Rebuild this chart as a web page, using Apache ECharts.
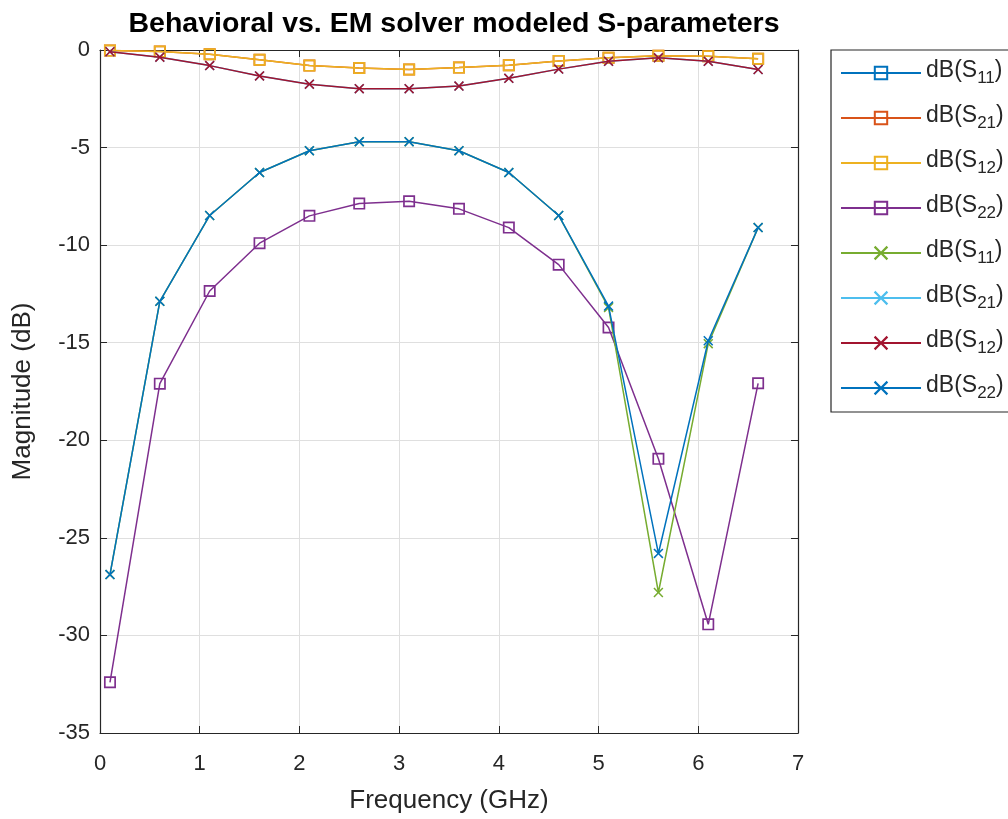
<!DOCTYPE html>
<html>
<head>
<meta charset="utf-8">
<script src="https://cdn.jsdelivr.net/npm/echarts@6/dist/echarts.min.js"></script>
<style>
html,body{margin:0;padding:0;background:#fff;}
#chart{width:1008px;height:819px;}
</style>
</head>
<body>
<div id="chart"></div>
<script>
// ---- data ----
const freq = [0.1, 0.6, 1.1, 1.6, 2.1, 2.6, 3.1, 3.6, 4.1, 4.6, 5.1, 5.6, 6.1, 6.6];
const xTicks = [0, 1, 2, 3, 4, 5, 6, 7];
const yTicks = [-35, -30, -25, -20, -15, -10, -5, 0];
// Behavioral model (square markers)
const s11Behav = [];   // not visible in the reference
const s21Behav = [-0.03, -0.08, -0.22, -0.5, -0.8, -0.92, -1.0, -0.9, -0.78, -0.56, -0.4, -0.3, -0.32, -0.45];
const s12Behav = [-0.03, -0.08, -0.22, -0.5, -0.8, -0.92, -1.0, -0.9, -0.78, -0.56, -0.4, -0.3, -0.32, -0.45];
const s22Behav = [-32.4, -17.1, -12.35, -9.9, -8.5, -7.87, -7.75, -8.14, -9.1, -11.0, -14.22, -20.95, -29.43, -17.08];
// EM solver (x markers)
const s11EM = [-26.88, -12.88, -8.48, -6.28, -5.16, -4.7, -4.7, -5.16, -6.28, -8.48, -13.2, -27.8, -15.05, -9.1];
const s21EM = [-0.09, -0.37, -0.8, -1.33, -1.75, -1.98, -1.98, -1.85, -1.45, -0.98, -0.58, -0.4, -0.58, -1.0];
const s12EM = [-0.09, -0.37, -0.8, -1.33, -1.75, -1.98, -1.98, -1.85, -1.45, -0.98, -0.58, -0.4, -0.58, -1.0];
const s22EM = [-26.88, -12.88, -8.48, -6.28, -5.16, -4.7, -4.7, -5.16, -6.28, -8.48, -13.12, -25.8, -14.9, -9.1];
const labels = ['11', '21', '12', '22', '11', '21', '12', '22'];

// ---- style ----
const colors = ['#0072BD', '#D95319', '#EDB120', '#7E2F8E', '#77AC30', '#4DBEEE', '#A2142F', '#0072BD'];
const SQUARE = 'path://M0,0H10V10H0Z M1.4,1.4V8.6H8.6V1.4Z';
const CROSS = 'path://M0,1.1L1.1,0L5,3.9L8.9,0L10,1.1L6.1,5L10,8.9L8.9,10L5,6.1L1.1,10L0,8.9L3.9,5Z';
const font = 'Liberation Sans, Arial, Helvetica, sans-serif';
const axisColor = '#262626';

const allData = [s11Behav, s21Behav, s12Behav, s22Behav, s11EM, s21EM, s12EM, s22EM];
const series = allData.map((vals, i) => {
  const isSq = i < 4;
  return {
    name: 'S' + i,
    type: 'line',
    data: vals.map((v, k) => [freq[k], v]),
    symbol: isSq ? SQUARE : CROSS,
    symbolSize: isSq ? 12 : 10,
    showAllSymbol: true,
    lineStyle: { color: colors[i], width: 1.5 },
    itemStyle: { color: colors[i] },
    emphasis: { disabled: true },
    animation: false,
    z: 2 + i
  };
});

const tickStyle = { inside: true, length: 7, lineStyle: { color: axisColor } };
const lineStyleAx = { onZero: false, lineStyle: { color: axisColor, width: 1.2 } };

const chart = echarts.init(document.getElementById('chart'), null, { renderer: 'canvas' });
chart.setOption({
  animation: false,
  backgroundColor: '#fff',
  title: {
    text: 'Behavioral vs. EM solver modeled S-parameters',
    left: 449, top: 5, textAlign: 'center',
    textStyle: { fontFamily: font, fontSize: 28.5, fontWeight: 'bold', color: '#000' }
  },
  grid: { left: 100, right: 210, top: 50, bottom: 84 },
  legend: {
    orient: 'vertical',
    left: 831, top: 50,
    padding: [9, 80, 10, 9],
    borderColor: axisColor, borderWidth: 1.2,
    itemWidth: 80, itemHeight: 18, itemGap: 17,
    data: series.map(s => s.name),
    formatter: function (name) {
      const i = parseInt(name.slice(1), 10);
      return '{a|dB(S}{s|' + labels[i] + '}{a|)}';
    },
    textStyle: {
      fontFamily: font, color: axisColor,
      rich: {
        a: { fontFamily: font, fontSize: 23, color: axisColor, lineHeight: 28, verticalAlign: 'top' },
        s: { fontFamily: font, fontSize: 17, color: axisColor, lineHeight: 28, verticalAlign: 'bottom', padding: [11, 0, 0, 0] }
      }
    }
  },
  xAxis: [{
    type: 'value', min: 0, max: 7, interval: 1,
    name: 'Frequency (GHz)', nameLocation: 'middle', nameGap: 55,
    nameTextStyle: { fontFamily: font, fontSize: 26, color: axisColor },
    axisLine: lineStyleAx,
    axisTick: tickStyle,
    axisLabel: { fontFamily: font, fontSize: 22, color: axisColor, margin: 20, formatter: v => xTicks.includes(v) ? String(v) : '' },
    splitLine: { show: true, lineStyle: { color: '#dfdfdf', width: 1 } }
  }, {
    type: 'value', min: 0, max: 7, interval: 1, position: 'top',
    axisLine: lineStyleAx,
    axisTick: tickStyle,
    axisLabel: { show: false }, splitLine: { show: false }
  }],
  yAxis: [{
    type: 'value', min: -35, max: 0, interval: 5,
    name: 'Magnitude (dB)', nameLocation: 'middle', nameGap: 64,
    nameTextStyle: { fontFamily: font, fontSize: 26, color: axisColor },
    axisLine: lineStyleAx,
    axisTick: tickStyle,
    axisLabel: { fontFamily: font, fontSize: 22, color: axisColor, margin: 10, formatter: v => yTicks.includes(v) ? String(v) : '' },
    splitLine: { show: true, lineStyle: { color: '#dfdfdf', width: 1 } }
  }, {
    type: 'value', min: -35, max: 0, interval: 5, position: 'right',
    axisLine: lineStyleAx,
    axisTick: tickStyle,
    axisLabel: { show: false }, splitLine: { show: false }
  }],
  series: series
});
</script>
</body>
</html>
